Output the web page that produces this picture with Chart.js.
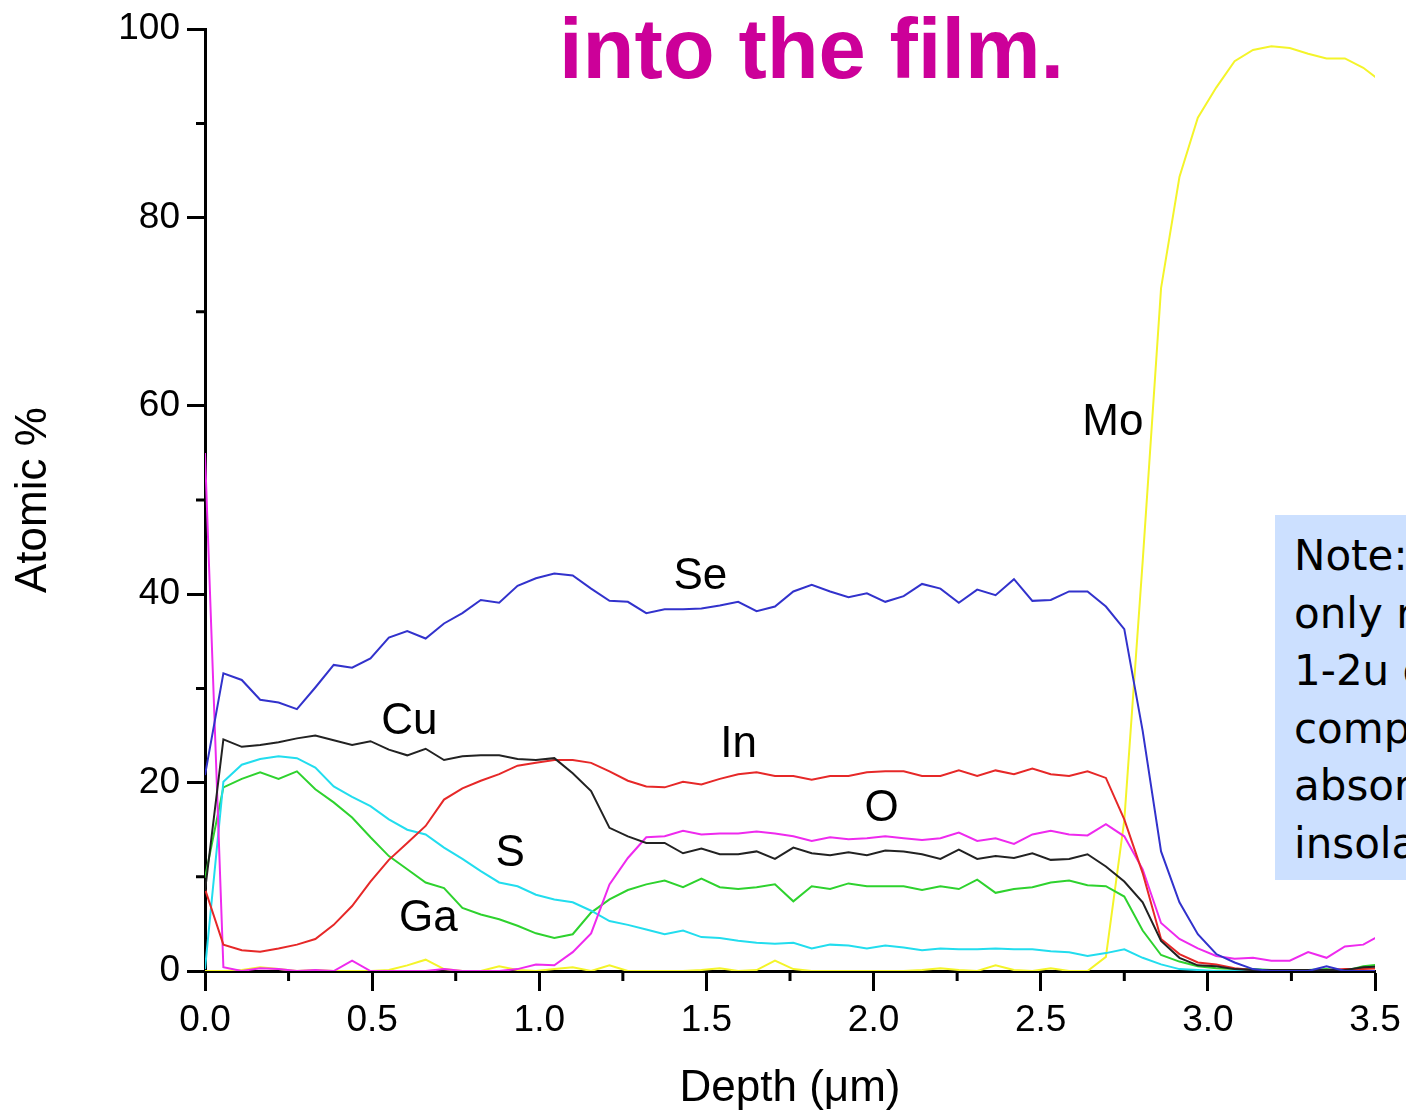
<!DOCTYPE html>
<html>
<head>
<meta charset="utf-8">
<script src="https://cdn.jsdelivr.net/npm/chart.js@4.4.1/dist/chart.umd.min.js"></script>
<style>
  html, body { margin: 0; padding: 0; background: #fff; overflow: hidden; }
  #wrap { position: relative; width: 1406px; height: 1115px; }
  #grafico { position: absolute; left: 0; top: 0; }
  #titulo {
    position: absolute; left: 559px; top: 0; white-space: nowrap;
    font: bold 85px "Liberation Sans", Arial, sans-serif; line-height: 98px; color: #CC0099;
  }
  #nota {
    position: absolute; left: 1275px; top: 515px; width: 420px; height: 365px;
    box-sizing: border-box; padding: 12px 0 0 19px; background: #CCE0FF;
    font: 42px "DejaVu Sans", sans-serif; line-height: 57.5px; color: #000; white-space: nowrap;
  }
</style>
</head>
<body>
<div id="wrap">
  <canvas id="grafico" width="1406" height="1115"></canvas>
  <div id="titulo">into the film.</div>
  <div id="nota">Note: the<br>only requires<br>1-2u of<br>compound to<br>absorb<br>insolation.</div>
</div>
<script>
// profundidade (um) de cada ponto medido
const profundidade = [0, 0.055, 0.11, 0.165, 0.22, 0.275, 0.33, 0.385, 0.44, 0.495,
  0.55, 0.605, 0.66, 0.715, 0.77, 0.825, 0.88, 0.935, 0.99, 1.045,
  1.1, 1.155, 1.21, 1.265, 1.32, 1.375, 1.43, 1.485, 1.54, 1.595,
  1.65, 1.705, 1.76, 1.815, 1.87, 1.925, 1.98, 2.035, 2.09, 2.145,
  2.2, 2.255, 2.31, 2.365, 2.42, 2.475, 2.53, 2.585, 2.64, 2.695,
  2.75, 2.805, 2.86, 2.915, 2.97, 3.025, 3.08, 3.135, 3.19, 3.245,
  3.3, 3.355, 3.41, 3.465, 3.52];

const se = [20.8, 31.6, 30.9, 28.8, 28.5, 27.8, 30.1, 32.5, 32.2, 33.2,
  35.4, 36.1, 35.3, 36.9, 38.0, 39.4, 39.1, 40.9, 41.7, 42.2,
  42.0, 40.6, 39.3, 39.2, 38.0, 38.4, 38.4, 38.5, 38.8, 39.2,
  38.2, 38.7, 40.3, 41.0, 40.3, 39.7, 40.1, 39.2, 39.8, 41.1,
  40.6, 39.1, 40.5, 39.9, 41.6, 39.3, 39.4, 40.3, 40.3, 38.7,
  36.3, 25.5, 12.7, 7.3, 3.9, 1.8, 0.9, 0.2, 0, 0,
  0, 0.5, 0, 0, 0];

const cu = [8.5, 24.6, 23.8, 24.0, 24.3, 24.7, 25.0, 24.5, 24.0, 24.4,
  23.5, 22.9, 23.6, 22.4, 22.8, 22.9, 22.9, 22.5, 22.4, 22.6,
  21.0, 19.1, 15.2, 14.3, 13.6, 13.6, 12.5, 13.0, 12.4, 12.4,
  12.7, 11.9, 13.1, 12.5, 12.3, 12.6, 12.3, 12.8, 12.7, 12.4,
  11.9, 12.9, 11.9, 12.2, 12.0, 12.5, 11.8, 11.9, 12.4, 11.1,
  9.5, 7.3, 3.2, 1.4, 0.6, 0.5, 0.2, 0.1, 0.1, 0.1,
  0.1, 0.1, 0.1, 0.4, 0.5];

const inn = [8.7, 2.8, 2.2, 2.05, 2.4, 2.8, 3.4, 4.9, 6.9, 9.5,
  11.8, 13.6, 15.4, 18.2, 19.4, 20.2, 20.9, 21.8, 22.1, 22.4,
  22.4, 22.1, 21.2, 20.2, 19.6, 19.5, 20.1, 19.8, 20.4, 20.9,
  21.1, 20.7, 20.7, 20.3, 20.7, 20.7, 21.1, 21.2, 21.2, 20.7,
  20.7, 21.3, 20.7, 21.3, 20.9, 21.5, 20.9, 20.7, 21.2, 20.5,
  16.1, 10.4, 3.4, 1.8, 0.9, 0.7, 0.3, 0.1, 0.1, 0.1,
  0.1, 0.1, 0.2, 0.2, 0.3];

const oxi = [55, 0.4, 0, 0.3, 0.2, 0, 0.1, 0, 1.1, 0,
  0, 0, 0, 0.2, 0, 0, 0, 0.2, 0.7, 0.6,
  2.0, 4.0, 9.2, 12.0, 14.2, 14.3, 14.9, 14.5, 14.6, 14.6,
  14.8, 14.6, 14.3, 13.8, 14.2, 14.0, 14.1, 14.3, 14.1, 13.9,
  14.1, 14.7, 13.8, 14.1, 13.5, 14.5, 14.9, 14.5, 14.4, 15.6,
  14.3, 10.8, 5.1, 3.4, 2.4, 1.6, 1.3, 1.4, 1.1, 1.1,
  2.0, 1.4, 2.6, 2.8, 3.9];

const enx = [0.2, 20.1, 21.9, 22.5, 22.8, 22.6, 21.6, 19.6, 18.5, 17.5,
  16.1, 15.0, 14.5, 13.1, 11.9, 10.6, 9.4, 9.0, 8.1, 7.6,
  7.3, 6.4, 5.3, 4.9, 4.4, 3.9, 4.3, 3.6, 3.5, 3.2,
  3.0, 2.9, 3.0, 2.4, 2.8, 2.7, 2.4, 2.7, 2.5, 2.2,
  2.4, 2.3, 2.3, 2.4, 2.3, 2.3, 2.1, 2.0, 1.6, 1.9,
  2.3, 1.4, 0.7, 0.2, 0.1, 0, 0, 0, 0, 0,
  0, 0, 0, 0, 0];

const ga = [9.9, 19.5, 20.4, 21.1, 20.4, 21.2, 19.3, 17.9, 16.3, 14.2,
  12.2, 10.8, 9.4, 8.8, 6.7, 6.0, 5.5, 4.8, 4.0, 3.5,
  3.9, 6.2, 7.6, 8.6, 9.2, 9.6, 8.9, 9.8, 8.9, 8.7,
  8.9, 9.2, 7.4, 9.0, 8.7, 9.3, 9.0, 9.0, 9.0, 8.6,
  9.0, 8.7, 9.7, 8.3, 8.7, 8.9, 9.4, 9.6, 9.1, 9.0,
  7.9, 4.3, 1.7, 1.0, 0.5, 0.3, 0.2, 0.2, 0.1, 0.1,
  0.1, 0.2, 0, 0.5, 0.7];

const mo = [0, 0, 0.1, 0.4, 0.2, 0, 0.1, 0, 0, 0,
  0.1, 0.6, 1.2, 0.2, 0, 0, 0.5, 0.1, 0, 0.2,
  0.4, 0, 0.6, 0, 0, 0, 0, 0.1, 0.3, 0,
  0.1, 1.1, 0.2, 0, 0, 0, 0, 0, 0, 0.1,
  0.3, 0.1, 0, 0.6, 0.1, 0, 0.3, 0, 0, 1.5,
  16, 43.5, 72.5, 84.3, 90.6, 93.8, 96.6, 97.8, 98.2, 98.0,
  97.4, 96.9, 96.9, 95.9, 94.4];

const ticksMenoresX = [0.25, 0.75, 1.25, 1.75, 2.25, 2.75, 3.25];
const ticksMenoresY = [10, 30, 50, 70, 90];

// nomes escritos junto das curvas (posição em unidades do gráfico)
const rotulos = [
  { t: 'Se', x: 1.482, y: 41.8 },
  { t: 'Cu', x: 0.611, y: 26.5 },
  { t: 'In', x: 1.596, y: 24.0 },
  { t: 'O',  x: 2.024, y: 17.2 },
  { t: 'S',  x: 0.913, y: 12.4 },
  { t: 'Ga', x: 0.668, y: 5.5 },
  { t: 'Mo', x: 2.716, y: 58.2 }
];

const fonte = '"Liberation Sans", Arial, sans-serif';

const serie = (nome, valores, cor) => ({
  label: nome,
  data: profundidade.map((d, i) => ({ x: d, y: valores[i] })),
  borderColor: cor,
  borderWidth: 2,
  pointRadius: 0,
  tension: 0,
  fill: false
});

const tracinhos = {
  id: 'tracinhos',
  afterDraw(chart) {
    const { ctx, scales: { x, y } } = chart;
    ctx.save();
    ctx.strokeStyle = '#000';
    ctx.lineWidth = 3;
    ctx.beginPath();
    ticksMenoresX.forEach(v => {
      const px = x.getPixelForValue(v);
      ctx.moveTo(px, y.bottom);
      ctx.lineTo(px, y.bottom + 10);
    });
    ticksMenoresY.forEach(v => {
      const py = y.getPixelForValue(v);
      ctx.moveTo(x.left, py);
      ctx.lineTo(x.left - 9, py);
    });
    ctx.stroke();

    // nomes dos elementos
    ctx.fillStyle = '#000';
    ctx.font = '44px ' + fonte;
    ctx.textAlign = 'center';
    ctx.textBaseline = 'middle';
    rotulos.forEach(r => ctx.fillText(r.t, x.getPixelForValue(r.x), y.getPixelForValue(r.y)));
    ctx.restore();
  }
};

new Chart(document.getElementById('grafico'), {
  type: 'line',
  data: {
    datasets: [
      serie('Se', se, '#3232CC'),
      serie('Cu', cu, '#222222'),
      serie('In', inn, '#E62828'),
      serie('O', oxi, '#EE2AEE'),
      serie('S', enx, '#22DDEE'),
      serie('Ga', ga, '#2ED22E'),
      serie('Mo', mo, '#F4F42A')
    ]
  },
  options: {
    responsive: false,
    animation: false,
    layout: { padding: { top: 27, right: 31, bottom: 0, left: 0 } },
    plugins: { legend: { display: false }, tooltip: { enabled: false } },
    scales: {
      x: {
        type: 'linear', min: 0, max: 3.5,
        ticks: {
          stepSize: 0.5, autoSkip: false, maxRotation: 0, padding: 8, color: '#000',
          font: { family: fonte, size: 37 },
          callback: v => v.toFixed(1)
        },
        grid: { drawOnChartArea: false, tickLength: 20, tickWidth: 3, color: '#000' },
        border: { color: '#000', width: 3 },
        title: { display: true, text: 'Depth (μm)', color: '#000', padding: 0, font: { family: fonte, size: 44 } },
        afterFit: s => { s.height = 144; s.paddingLeft = 0; s.paddingRight = 0; }
      },
      y: {
        min: 0, max: 100,
        ticks: { stepSize: 20, padding: 7, color: '#000', font: { family: fonte, size: 37 } },
        grid: { drawOnChartArea: false, tickLength: 18, tickWidth: 3, color: '#000' },
        border: { color: '#000', width: 3 },
        title: { display: true, text: 'Atomic %', color: '#000', padding: { top: 7 }, font: { family: fonte, size: 44 } },
        afterFit: s => { s.width = 205; }
      }
    }
  },
  plugins: [tracinhos]
});
</script>
</body>
</html>
